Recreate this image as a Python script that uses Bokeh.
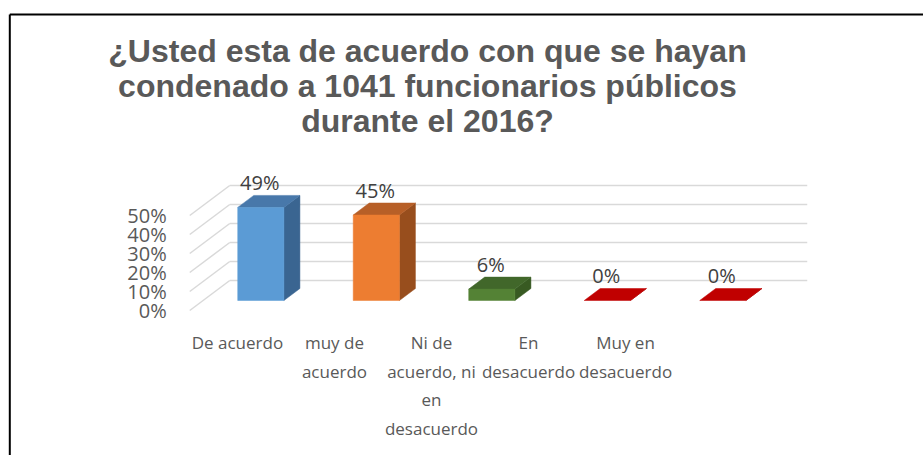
from bokeh.plotting import figure
from bokeh.models import Range1d
from bokeh.core.properties import value
from bokeh.embed import file_html
from bokeh.resources import INLINE

# ---------------- data ----------------
title_lines = ["¿Usted esta de acuerdo con que se hayan",
               "condenado a 1041 funcionarios públicos",
               "durante el 2016?"]
categories = ["De acuerdo",
              "muy de\nacuerdo",
              "Ni de\nacuerdo, ni\nen\ndesacuerdo",
              "En\ndesacuerdo",
              "Muy en\ndesacuerdo"]
values = [49, 45, 6, 0, 0]
value_labels = ["49%", "45%", "6%", "0%", "0%"]
ticks = [0, 10, 20, 30, 40, 50]
tick_labels = ["0%", "10%", "20%", "30%", "40%", "50%"]
front_colors = ["#5b9bd5", "#ed7d31", "#548235", "#c00000", "#c00000"]
top_colors = ["#4878aa", "#b75f27", "#41672a", "#c00000", "#c00000"]
side_colors = ["#3a6591", "#984e1d", "#385a22", "#a00000", "#a00000"]

# ---------------- layout ----------------
W, H = 923, 455
ORIGIN_X = 247.0      # canvas x of slot 0 on the front plane
SLOT_PX = 115.5       # px per category slot
ORIGIN_Y = 310.0      # canvas y of 0 % on the front plane
PCT_PX = 1.9          # px per percent


def lx(cx):
    return (cx - ORIGIN_X) / SLOT_PX


def ly(cy):
    return (ORIGIN_Y - cy) / PCT_PX


DEPTH_DX = 40.0 / SLOT_PX
DEPTH_DY = 30.0 / PCT_PX
D0, D1 = 0.333, 0.733
HALF = 0.2
TEXT = "#595959"
FONT = value("Open Sans")

p = figure(width=W, height=H, output_backend="svg", toolbar_location=None,
           x_range=Range1d(lx(0), lx(W)),
           y_range=Range1d(ly(H), ly(0)),
           x_axis_location=None, y_axis_location=None,
           min_border=0, tools="")
p.grid.visible = False
p.outline_line_color = None
p.background_fill_color = "white"
p.border_fill_color = "white"

n = len(categories)
xL, xR = -0.5, n - 0.5

# grid: side wall diagonals and back wall lines
p.segment(x0=[xL] * len(ticks), y0=ticks,
          x1=[xL + DEPTH_DX] * len(ticks), y1=[t + DEPTH_DY for t in ticks],
          line_color="#d9d9d9", line_width=1.5)
p.segment(x0=[xL + DEPTH_DX] * len(ticks), y0=[t + DEPTH_DY for t in ticks],
          x1=[xR + DEPTH_DX] * len(ticks), y1=[t + DEPTH_DY for t in ticks],
          line_color="#d9d9d9", line_width=1.5)

# bars
side_xs, side_ys, top_xs, top_ys, front_xs, front_ys = [], [], [], [], [], []
for i, v in enumerate(values):
    l, r = i - HALF, i + HALF
    f_dx, f_dy = D0 * DEPTH_DX, D0 * DEPTH_DY
    b_dx, b_dy = D1 * DEPTH_DX, D1 * DEPTH_DY
    side_xs.append([r + f_dx, r + b_dx, r + b_dx, r + f_dx])
    side_ys.append([f_dy, b_dy, v + b_dy, v + f_dy])
    top_xs.append([l + f_dx, r + f_dx, r + b_dx, l + b_dx])
    top_ys.append([v + f_dy, v + f_dy, v + b_dy, v + b_dy])
    front_xs.append([l + f_dx, r + f_dx, r + f_dx, l + f_dx])
    front_ys.append([f_dy, f_dy, v + f_dy, v + f_dy])

p.patches(xs=side_xs, ys=side_ys, fill_color=side_colors, line_color=side_colors, line_width=0.5)
p.patches(xs=top_xs, ys=top_ys, fill_color=top_colors, line_color=top_colors, line_width=0.5)
nz = [i for i, v in enumerate(values) if v > 0]
p.patches(xs=[front_xs[i] for i in nz], ys=[front_ys[i] for i in nz],
          fill_color=[front_colors[i] for i in nz], line_color=[front_colors[i] for i in nz],
          line_width=0.5)

# data labels
p.text(x=[i + D0 * DEPTH_DX - 1 / SLOT_PX for i in range(n)],
       y=[v + D0 * DEPTH_DY + 25 / PCT_PX for v in values],
       text=value_labels, text_font=FONT, text_font_size="20px",
       text_color="#404040", text_align="center", text_baseline="middle")

# tick labels
p.text(x=[xL - 23 / SLOT_PX] * len(ticks), y=ticks,
       text=tick_labels, text_font=FONT, text_font_size="20px",
       text_color=TEXT, text_align="right", text_baseline="middle")

# category labels
LABEL_X0, LABEL_STEP = -0.087, 0.84
cx, cy, ct = [], [], []
for i, c in enumerate(categories):
    for k, line in enumerate(c.split("\n")):
        cx.append(LABEL_X0 + i * LABEL_STEP)
        cy.append(ly(342 + 28.7 * k))
        ct.append(line)
p.text(x=cx, y=cy, text=ct, text_font=FONT, text_font_size="17px",
       text_color=TEXT, text_align="center", text_baseline="middle")

# title
p.text(x=[lx(427)] * len(title_lines), y=[ly(50 + 35 * k) for k in range(len(title_lines))],
       text=title_lines, text_font=value("Liberation Sans"), text_font_style="bold",
       text_font_size="32px", text_color=TEXT, text_align="center",
       text_baseline="middle")

# chart frame (top and left edges visible)
p.segment(x0=[lx(9.3)], y0=[ly(14)], x1=[lx(9.3)], y1=[ly(H + 5)],
          line_color="black", line_width=2)
p.segment(x0=[lx(9.3)], y0=[ly(14)], x1=[lx(W + 5)], y1=[ly(14)],
          line_color="black", line_width=2)

open("out.html", "w").write(file_html(p, INLINE))
